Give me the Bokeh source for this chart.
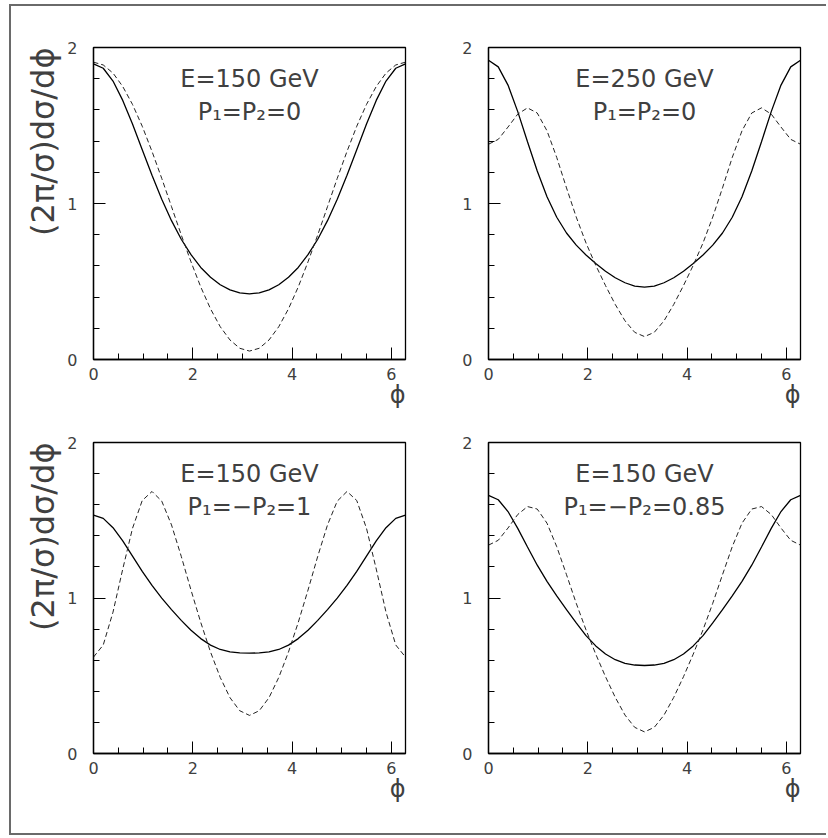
from bokeh.plotting import figure
from bokeh.models import Range1d, FixedTicker, Label, Spacer, Title
from bokeh.layouts import column, row
from bokeh.embed import file_html
from bokeh.resources import INLINE

# azimuthal angle samples (0 .. 2*pi)
phi = [0.0, 0.1963, 0.3927, 0.5890, 0.7854, 0.9817, 1.1781, 1.3744, 1.5708,
       1.7671, 1.9635, 2.1598, 2.3562, 2.5525, 2.7489, 2.9452, 3.1416,
       3.3379, 3.5343, 3.7306, 3.9270, 4.1233, 4.3197, 4.5160, 4.7124,
       4.9087, 5.1051, 5.3014, 5.4978, 5.6941, 5.8905, 6.0868, 6.2832]

# E=150 GeV, P1=P2=0
tl_solid = [1.895, 1.867, 1.785, 1.661, 1.510, 1.345, 1.181, 1.027, 0.890, 0.771, 0.672,
            0.590, 0.527, 0.479, 0.446, 0.427, 0.421, 0.427, 0.446, 0.479, 0.527, 0.590,
            0.672, 0.771, 0.890, 1.027, 1.181, 1.345, 1.510, 1.661, 1.785, 1.867, 1.895]
tl_dashed = [1.906, 1.888, 1.836, 1.750, 1.635, 1.495, 1.334, 1.161, 0.980, 0.799, 0.626,
             0.465, 0.325, 0.210, 0.125, 0.072, 0.054, 0.072, 0.125, 0.210, 0.325, 0.465,
             0.626, 0.799, 0.980, 1.161, 1.334, 1.495, 1.635, 1.750, 1.836, 1.888, 1.906]
# E=250 GeV, P1=P2=0
tr_solid = [1.918, 1.876, 1.759, 1.589, 1.396, 1.208, 1.043, 0.912, 0.811, 0.733, 0.670,
            0.615, 0.566, 0.524, 0.492, 0.471, 0.464, 0.471, 0.492, 0.524, 0.566, 0.615,
            0.670, 0.733, 0.811, 0.912, 1.043, 1.208, 1.396, 1.589, 1.759, 1.876, 1.918]
tr_dashed = [1.380, 1.411, 1.490, 1.573, 1.613, 1.580, 1.466, 1.295, 1.100, 0.913, 0.747,
             0.604, 0.474, 0.353, 0.248, 0.174, 0.147, 0.174, 0.248, 0.353, 0.474, 0.604,
             0.747, 0.913, 1.100, 1.295, 1.466, 1.580, 1.613, 1.573, 1.490, 1.411, 1.380]
# E=150 GeV, P1=-P2=1
bl_solid = [1.533, 1.512, 1.452, 1.367, 1.269, 1.171, 1.081, 0.999, 0.925, 0.856, 0.793,
            0.739, 0.697, 0.669, 0.654, 0.647, 0.645, 0.647, 0.654, 0.669, 0.697, 0.739,
            0.793, 0.856, 0.925, 0.999, 1.081, 1.171, 1.269, 1.367, 1.452, 1.512, 1.533]
bl_dashed = [0.620, 0.698, 0.909, 1.186, 1.448, 1.627, 1.685, 1.623, 1.470, 1.268, 1.051,
             0.843, 0.653, 0.489, 0.359, 0.275, 0.245, 0.275, 0.359, 0.489, 0.653, 0.843,
             1.051, 1.268, 1.470, 1.623, 1.685, 1.627, 1.448, 1.186, 0.909, 0.698, 0.620]
# E=150 GeV, P1=-P2=0.85
br_solid = [1.660, 1.632, 1.556, 1.448, 1.328, 1.211, 1.107, 1.013, 0.925, 0.840, 0.758,
            0.692, 0.640, 0.603, 0.580, 0.569, 0.566, 0.569, 0.580, 0.603, 0.640, 0.692,
            0.758, 0.840, 0.925, 1.013, 1.107, 1.211, 1.328, 1.448, 1.556, 1.632, 1.660]
br_dashed = [1.340, 1.371, 1.450, 1.537, 1.588, 1.572, 1.481, 1.330, 1.150, 0.966, 0.795,
             0.639, 0.494, 0.361, 0.247, 0.168, 0.139, 0.168, 0.247, 0.361, 0.494, 0.639,
             0.795, 0.966, 1.150, 1.330, 1.481, 1.572, 1.588, 1.537, 1.450, 1.371, 1.340]

titles_energy = ["E=150 GeV", "E=250 GeV", "E=150 GeV", "E=150 GeV"]
titles_pol = ["P\u2081=P\u2082=0", "P\u2081=P\u2082=0", "P\u2081=\u2212P\u2082=1", "P\u2081=\u2212P\u2082=0.85"]
y_label = "(2\u03c0/\u03c3)d\u03c3/d\u03d5"
x_label = "\u03d5"

x_major = [0, 2, 4, 6]
x_minor = [0.5, 1, 1.5, 2.5, 3, 3.5, 4.5, 5, 5.5]
y_major = [0, 1, 2]
y_minor = [0.2, 0.4, 0.6, 0.8, 1.2, 1.4, 1.6, 1.8]
X_END = 6.2832
Y_END = 2.0

FONT = "DejaVu Sans"
TXT = "#404040"


def panel(solid, dashed, t1, t2, with_ylabel, bl, br, bt, bb, fh):
    p = figure(frame_width=312, frame_height=fh,
               min_border_left=bl, min_border_right=br,
               min_border_top=bt, min_border_bottom=bb,
               x_range=Range1d(0, X_END), y_range=Range1d(0, Y_END),
               output_backend="svg", toolbar_location=None)
    p.grid.visible = False
    p.background_fill_color = "white"
    p.border_fill_color = "white"
    p.outline_line_color = "black"
    p.outline_line_width = 1.3
    p.outline_line_alpha = 1.0

    p.line(phi, solid, line_color="black", line_width=1.3)
    p.line(phi, dashed, line_color="#222222", line_width=1.0, line_dash="5 3")

    p.xaxis.ticker = FixedTicker(ticks=x_major, minor_ticks=x_minor)
    p.yaxis.ticker = FixedTicker(ticks=y_major, minor_ticks=y_minor)
    for ax in (p.xaxis, p.yaxis):
        ax.axis_line_color = "black"
        ax.axis_line_width = 1.3
        ax.major_tick_line_color = "black"
        ax.minor_tick_line_color = "black"
        ax.major_tick_line_width = 1.0
        ax.minor_tick_line_width = 1.0
        ax.major_tick_in = 12
        ax.major_tick_out = 0
        ax.minor_tick_in = 6
        ax.minor_tick_out = 0
        ax.major_label_text_font = FONT
        ax.major_label_text_font_size = "16px"
        ax.major_label_text_color = TXT
    p.xaxis.major_label_standoff = 8
    p.yaxis.major_label_standoff = 16

    p.add_layout(Label(x=3.1416, y=1.795, text=t1, text_font=FONT,
                       text_font_size="24px", text_color=TXT,
                       text_align="center", text_baseline="alphabetic"))
    p.add_layout(Label(x=3.1416, y=1.585, text=t2, text_font=FONT,
                       text_font_size="24px", text_color=TXT,
                       text_align="center", text_baseline="alphabetic"))
    p.add_layout(Title(text=x_label, align="right", standoff=-8,
                       text_font=FONT, text_font_size="24px",
                       text_color=TXT, text_font_style="normal"), "below")
    if with_ylabel:
        p.add_layout(Title(text=y_label, align="right", standoff=6,
                           text_font=FONT, text_font_size="32px",
                           text_color=TXT, text_font_style="normal"), "left")
    return p


# borders chosen so that the frames sit where the reference frames are
p1 = panel(tl_solid, tl_dashed, titles_energy[0], titles_pol[0], True, 82, 40, 41, 60, 312)
p2 = panel(tr_solid, tr_dashed, titles_energy[1], titles_pol[1], False, 43, 26, 41, 60, 312)
p3 = panel(bl_solid, bl_dashed, titles_energy[2], titles_pol[2], True, 82, 40, 23, 80, 311)
p4 = panel(br_solid, br_dashed, titles_energy[3], titles_pol[3], False, 43, 26, 23, 80, 311)

BORDER = "#6a6a6a"
left_bar = Spacer(width=2, height=831, styles={"background-color": BORDER})
top_bar = Spacer(width=815, height=2, styles={"background-color": BORDER})
bottom_bar = Spacer(width=815, height=2, styles={"background-color": BORDER})

inner = row(left_bar, column(top_bar, row(p1, p2), row(p3, p4), bottom_bar))
layout = column(Spacer(width=826, height=4), row(Spacer(width=9, height=831), inner))

open("out.html", "w").write(file_html(layout, INLINE))
